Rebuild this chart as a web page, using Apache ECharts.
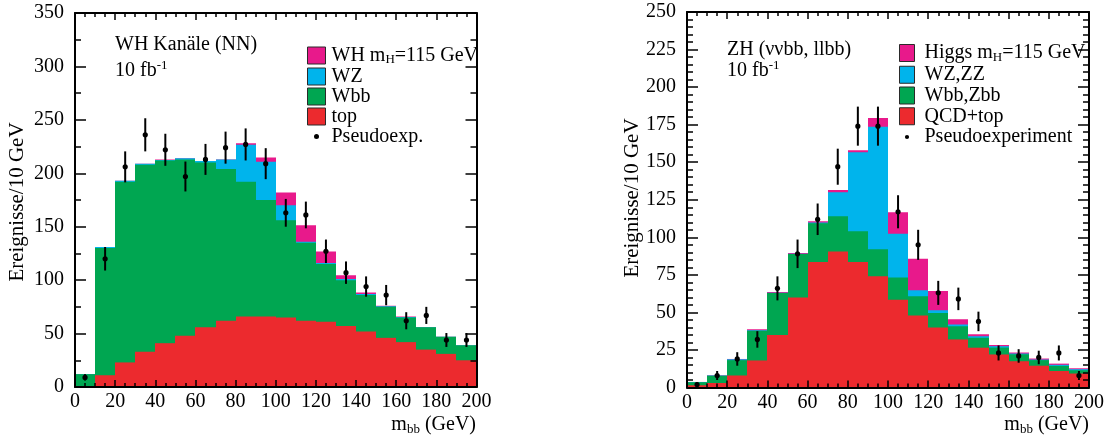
<!DOCTYPE html>
<html><head><meta charset="utf-8">
<script src="https://cdn.jsdelivr.net/npm/echarts@6/dist/echarts.min.js"></script>
<style>html,body{margin:0;padding:0;background:#fff}#c{width:1107px;height:444px}</style>
</head><body><div id="c"></div>
<script>
// ---- Data ----
const binStarts = [0,10,20,30,40,50,60,70,80,90,100,110,120,130,140,150,160,170,180,190];
const binWidth = 10;

// Left panel: WH channels (NN)
const whNames = ['WH mH=115 GeV', 'WZ', 'Wbb', 'top'];
const whHiggs = [0, 0, 0, 0, 0.5, 0, 0, 0, 1.6, 4, 12, 15.4, 10.7, 3.5, 1.5, 0.5, 0.5, 0, 0, 0];
const whWZ    = [0, 1, 1, 1, 0.5, 1, 1.6, 9, 34.6, 35.7, 14, 1, 1, 1, 1, 0.5, 0.5, 0, 0, 0];
const whWbb   = [12, 119, 169, 175, 171, 165, 154, 142, 126, 109, 91, 73, 54, 43, 34, 29, 23, 21, 16, 14];
const whTop   = [0, 11, 23, 33, 41, 48, 56, 62, 66, 66, 65, 62, 61, 57, 52, 46, 42, 35, 31, 25];
const whData  = [9, 120, 206, 236, 222, 197, 213, 224, 227, 209, 163, 161, 127, 107, 94, 86, 62, 67, 44, 44];
const whErr   = [3, 11, 14.5, 15.5, 15, 14, 14.5, 15, 15, 14.5, 13, 12.5, 11, 10.5, 9.5, 9.5, 8, 8, 6.5, 6.5];
const whPseudoName = 'Pseudoexp.';

// Right panel: ZH (vvbb, llbb)
const zhNames = ['Higgs mH=115 GeV', 'WZ,ZZ', 'Wbb,Zbb', 'QCD+top'];
const zhHiggs  = [0.1, 0.1, 0.2, 0.7, 0.5, 0.5, 0.8, 1.5, 1.3, 5.8, 14.4, 21, 12.8, 3.4, 1.3, 0.8, 0.7, 0.7, 0.8, 0.6];
const zhWZZZ   = [0.1, 0.2, 0.6, 0.4, 0.2, 0.2, 0.5, 16, 52.6, 81.6, 29, 3.9, 1.8, 1.3, 0.9, 0.9, 0.5, 0.4, 0.7, 0.7];
const zhWbbZbb = [2, 4.8, 10.2, 19.7, 27.9, 28.8, 25.9, 23.5, 20.5, 18, 14.8, 12.8, 9.6, 8.7, 6.7, 4.6, 4.6, 3.7, 3.4, 2.2];
const zhQcdTop = [1.5, 3, 8, 18, 35, 60, 83.5, 90.5, 83.5, 74, 58.5, 48, 40, 32, 26.5, 22, 17.5, 14.5, 11, 9.3];
const zhData   = [2, 8, 19, 32, 66, 89, 112, 147, 174, 174, 117, 95, 63, 59, 44, 23, 21, 20, 23, 8];
const zhErr    = [1.5, 3, 4.5, 5.5, 8, 9.5, 10.5, 12, 13, 13, 11, 10, 8, 7.5, 6.5, 5, 4.5, 4.5, 5, 3];
const zhPseudoName = 'Pseudoexperiment';

const colors = ['#e8198b', '#00b4ec', '#00a651', '#ec2a2e'];
const FONT = "'Liberation Serif', 'DejaVu Serif', serif";

// ---- Builders ----
// components listed top-of-stack first; each series drawn from 0 up to its cumulative total (ROOT style overlap)
function stackSeries(components, names, gridIdx) {
  const n = components.length;
  return components.map((vals, k) => {
    const data = binStarts.map((x, i) => {
      let cum = 0;
      for (let j = k; j < n; j++) cum += components[j][i];
      return [x, x + binWidth, 0, cum];
    });
    const col = colors[k];
    return {
      type: 'custom', name: names[k],
      xAxisIndex: gridIdx * 2, yAxisIndex: gridIdx * 2,
      itemStyle: { color: col },
      encode: { x: [0, 1], y: [2, 3] },
      z: 2 + k * 0.01,
      silent: true,
      data: data,
      renderItem: function (params, api) {
        const p0 = api.coord([api.value(0), api.value(3)]);
        const p1 = api.coord([api.value(1), api.value(2)]);
        const x0 = Math.round(p0[0]), x1 = Math.round(p1[0]);
        const h = p1[1] - p0[1];
        if (h <= 0) return null;
        return { type: 'rect', shape: { x: x0, y: p0[1], width: x1 - x0, height: h }, style: { fill: col } };
      }
    };
  });
}

function pointSeries(vals, errs, name, gridIdx) {
  return {
    type: 'custom', name: name,
    xAxisIndex: gridIdx * 2, yAxisIndex: gridIdx * 2,
    itemStyle: { color: '#000' },
    encode: { x: 0, y: 1 },
    z: 4, silent: true,
    data: binStarts.map((x, i) => [x + binWidth / 2, vals[i], errs[i]]),
    renderItem: function (params, api) {
      const x = api.value(0), y = api.value(1), e = api.value(2);
      const c = api.coord([x, y]);
      const lo = api.coord([x, y - e]);
      const hi = api.coord([x, y + e]);
      return { type: 'group', children: [
        { type: 'line', shape: { x1: c[0], y1: lo[1], x2: c[0], y2: hi[1] }, style: { stroke: '#000', lineWidth: 2 } },
        { type: 'circle', shape: { cx: c[0], cy: c[1], r: 2.6 }, style: { fill: '#000' } }
      ] };
    }
  };
}

function axes(gridIdx, yMax, yInt, yMinor) {
  const line = { show: true, onZero: false, lineStyle: { color: '#000', width: 2 } };
  const lab = { color: '#000', fontSize: 20, fontFamily: FONT };
  const xBase = { type: 'value', gridIndex: gridIdx, min: 0, max: 200, interval: 20, z: 5,
    axisLine: line, splitLine: { show: false },
    axisTick: { show: true, inside: true, length: 7, lineStyle: { color: '#000', width: 1.5 } },
    minorTick: { show: true, splitNumber: 4, length: 4, lineStyle: { color: '#000', width: 1.5 } } };
  const yBase = { type: 'value', gridIndex: gridIdx, min: 0, max: yMax, interval: yInt, z: 5,
    axisLine: line, splitLine: { show: false },
    axisTick: { show: true, inside: true, length: 11, lineStyle: { color: '#000', width: 1.5 } },
    minorTick: { show: true, splitNumber: yMinor, length: 6, lineStyle: { color: '#000', width: 1.5 } } };
  return {
    x: [
      Object.assign({}, xBase, { position: 'bottom', axisLabel: Object.assign({ margin: 5 }, lab) }),
      Object.assign({}, xBase, { position: 'top', axisLabel: { show: false } })
    ],
    y: [
      Object.assign({}, yBase, { position: 'left', axisLabel: Object.assign({ margin: 11 }, lab) }),
      Object.assign({}, yBase, { position: 'right', axisLabel: { show: false } })
    ]
  };
}

const A0 = axes(0, 350, 50, 2);
const A1 = axes(1, 250, 25, 5);

const legendRich = {
  t: { fontSize: 20, fontFamily: FONT, color: '#000', lineHeight: 22 },
  s: { fontSize: 13, fontFamily: FONT, color: '#000', lineHeight: 4, verticalAlign: 'bottom' }
};
function legendFmt(n) {
  const m = n.match(/^(.*) mH(=.*)$/);
  if (m) return '{t|' + m[1] + ' m}{s|H}{t|' + m[2] + '}';
  return '{t|' + n + '}';
}
const dotIcon = 'path://M0,0M18,17M9,6A2.5,2.5,0,1,1,9,11A2.5,2.5,0,1,1,9,6Z';
function legendFor(names, pseudo, left, top, w, gap, pad) {
  return {
    orient: 'vertical', left: left, top: top, itemWidth: w, itemHeight: 17, itemGap: gap,
    selectedMode: false,
    itemStyle: { borderColor: '#2a2a2a', borderWidth: 1 },
    textStyle: { rich: legendRich, padding: [0, 0, 0, pad] },
    formatter: legendFmt,
    data: names.map(n => ({ name: n, icon: 'rect' })).concat([{ name: pseudo, icon: dotIcon, itemStyle: { borderWidth: 0 } }])
  };
}

function txt(x, y, text, opts) {
  return { type: 'text', x: x, y: y, z: 10, silent: true,
    style: Object.assign({ text: text, fill: '#000', fontSize: 20, fontFamily: FONT, verticalAlign: 'middle' }, opts || {}) };
}
const supRich = {
  t: { fontSize: 20, fontFamily: FONT, fill: '#000', lineHeight: 22 },
  p: { fontSize: 13, fontFamily: FONT, fill: '#000', lineHeight: 4, verticalAlign: 'top' },
  s: { fontSize: 13, fontFamily: FONT, fill: '#000', lineHeight: 4, verticalAlign: 'bottom' }
};

const chart = echarts.init(document.getElementById('c'), null, { renderer: 'canvas' });
chart.setOption({
  animation: false,
  backgroundColor: '#fff',
  grid: [
    { left: 75, top: 13, width: 401.5, height: 374 },
    { left: 687, top: 12, width: 402, height: 375.5 }
  ],
  xAxis: [A0.x[0], A0.x[1], A1.x[0], A1.x[1]],
  yAxis: [A0.y[0], A0.y[1], A1.y[0], A1.y[1]],
  legend: [
    legendFor(whNames, whPseudoName, 302, 40.5, 18, 0, 1),
    legendFor(zhNames, zhPseudoName, 894, 38, 15, 0.75, 5)
  ],
  series: []
    .concat(stackSeries([whHiggs, whWZ, whWbb, whTop], whNames, 0))
    .concat([pointSeries(whData, whErr, whPseudoName, 0)])
    .concat(stackSeries([zhHiggs, zhWZZZ, zhWbbZbb, zhQcdTop], zhNames, 1))
    .concat([pointSeries(zhData, zhErr, zhPseudoName, 1)]),
  graphic: [
    txt(115, 45, 'WH Kanäle (NN)'),
    txt(115, 70.5, '{t|10 fb}{p|-1}', { rich: supRich }),
    txt(727, 50, 'ZH (ννbb, llbb)'),
    txt(727, 70.5, '{t|10 fb}{p|-1}', { rich: supRich }),
    txt(17, 202, 'Ereignisse/10 GeV', { fontSize: 21, align: 'center', rotation: 0 }),
    txt(632, 198, 'Ereignisse/10 GeV', { fontSize: 21, align: 'center' }),
    txt(476, 425, '{t|m}{s|bb}{t| (GeV)}', { rich: supRich, align: 'right' }),
    txt(1089, 425, '{t|m}{s|bb}{t| (GeV)}', { rich: supRich, align: 'right' })
  ].map((g, i) => (i === 4 || i === 5) ? Object.assign(g, { rotation: Math.PI / 2 }) : g)
});
</script>
</body></html>
